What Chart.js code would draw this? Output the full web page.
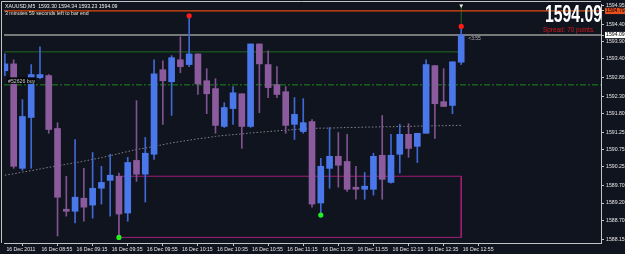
<!DOCTYPE html>
<html><head><meta charset="utf-8">
<script src="https://cdn.jsdelivr.net/npm/chart.js@4.4.0/dist/chart.umd.min.js"></script>
<style>html,body{margin:0;padding:0;background:#10141f;overflow:hidden}#wrap{width:625px;height:254px;position:relative}</style>
</head><body><div id="wrap"><canvas id="c" width="625" height="254"></canvas></div>
<script>
// ---- texts ----
const symbolTitle = 'XAUUSD,M5  1593.30 1594.34 1593.23 1594.09';
const timerText = '3 minutes 59 seconds left to bar end';
const bigPrice = '1594.09';
const spreadText = 'Spread: 70 points.';
const orderLabel = '#52626 buy';
const countdownText = '<3:55';

// ---- x axis (bar index of each tick and its label) ----
const xTickIndex = [0,4,8,12,16,20,24,28,32,36,40,44,48,52];
const xTickLabels = ['16 Dec 2011','16 Dec 08:55','16 Dec 09:15','16 Dec 09:35','16 Dec 09:55','16 Dec 10:15','16 Dec 10:35','16 Dec 10:55','16 Dec 11:15','16 Dec 11:35','16 Dec 11:55','16 Dec 12:15','16 Dec 12:35','16 Dec 12:55'];

// ---- y axis tick values ----
const yTickValues = [1594.95,1594.79,1594.40,1594.09,1593.90,1593.40,1592.86,1592.30,1591.80,1591.25,1590.75,1590.25,1589.70,1589.20,1588.70,1588.15];

// ---- candles (M5 bars from 08:35 to 12:55) ----
const openP  = [1593.05,1593.25,1590.21,1591.69,1592.85,1592.91,1591.37,1589.02,1588.96,1589.34,1589.14,1589.63,1589.86,1589.98,1588.91,1590.44,1590.04,1590.62,1593.08,1592.73,1593.37,1593.23,1593.54,1592.76,1592.53,1591.43,1591.95,1592.38,1591.43,1593.83,1593.23,1592.65,1592.44,1591.49,1591.28,1591.57,1589.20,1590.21,1590.56,1590.41,1589.66,1589.60,1589.60,1590.59,1589.80,1590.62,1591.20,1590.85,1591.23,1593.20,1592.15,1592.04,1593.30];
const highP  = [1593.54,1593.37,1592.21,1593.23,1593.75,1592.94,1591.54,1589.98,1591.05,1590.21,1590.67,1590.27,1590.62,1590.07,1590.53,1592.18,1591.11,1593.37,1593.34,1593.49,1594.04,1594.65,1593.54,1593.11,1592.82,1592.12,1592.59,1592.38,1593.83,1593.83,1593.63,1593.17,1592.59,1592.27,1592.24,1591.63,1590.50,1591.40,1591.25,1591.20,1590.27,1590.09,1590.65,1591.75,1591.20,1591.49,1591.51,1591.23,1593.37,1593.20,1593.11,1593.31,1594.34];
const lowP   = [1592.91,1590.21,1590.15,1590.21,1592.82,1591.23,1588.24,1588.82,1588.62,1588.67,1588.76,1589.17,1588.82,1588.24,1588.67,1589.83,1589.23,1590.47,1591.49,1591.75,1592.99,1593.17,1592.36,1591.80,1591.23,1591.40,1591.49,1590.79,1591.40,1591.83,1592.27,1592.27,1591.23,1591.05,1591.23,1589.08,1588.91,1589.63,1589.66,1589.54,1589.31,1589.31,1589.43,1589.31,1589.78,1590.07,1590.53,1590.38,1591.23,1591.08,1592.01,1591.80,1593.23];
const closeP = [1593.25,1590.27,1591.72,1592.94,1592.94,1591.34,1589.37,1588.96,1589.37,1589.08,1589.63,1589.80,1590.01,1588.88,1590.38,1590.04,1590.65,1592.96,1592.76,1593.43,1593.17,1593.54,1592.67,1592.38,1591.46,1591.98,1592.41,1591.43,1593.83,1593.25,1592.56,1592.36,1591.46,1591.78,1591.54,1589.17,1590.27,1590.56,1590.30,1589.60,1589.60,1589.69,1590.56,1589.89,1590.59,1591.20,1590.79,1591.23,1593.23,1592.09,1592.01,1593.31,1594.09];
// moving average (dotted grey curve)
const maValues = [1590.01,1590.05,1590.10,1590.14,1590.19,1590.24,1590.28,1590.33,1590.37,1590.42,1590.47,1590.52,1590.58,1590.64,1590.70,1590.76,1590.80,1590.85,1590.90,1590.95,1590.99,1591.03,1591.07,1591.10,1591.14,1591.17,1591.19,1591.21,1591.24,1591.26,1591.28,1591.30,1591.32,1591.34,1591.36,1591.37,1591.38,1591.38,1591.39,1591.40,1591.40,1591.41,1591.41,1591.42,1591.42,1591.43,1591.43,1591.44,1591.44,1591.45,1591.45,1591.46,1591.46];

// ---- levels and objects ----
const askPrice = 1594.79, bidPrice = 1594.09, tpLevel = 1593.60, orderPrice = 1592.64;
const fractalUpIdx = [21,52], fractalUpPrice = [1594.65,1594.34];
const fractalDnIdx = [13,36], fractalDnPrice = [1588.20,1588.85];
const boxIdx = [13,52], boxPrice = [1588.20,1589.98];
const tpEndIdx = 52;
const lastIdx = 52;

// ---- view ----
const X_MIN = -0.10, X_MAX = 67.93, Y_MIN = 1588.037, Y_MAX = 1594.993;
const BG = '#10141f';
const BULL = '#4a78ea', BEAR = '#8c5b9e', BULLW = '#4068d4', BEARW = '#7f5290';
const AXIS = '#c4c4c4';
const FONT_FAMILY = "'Liberation Sans',Arial,sans-serif";
const tickFont = {family: FONT_FAMILY, size: 5.2, lineHeight: 1};

const isBull = closeP.map((c,i)=>c>=openP[i]);
const hline = (y, x0, x1) => [{x:x0,y},{x:x1,y}];

const bgPlugin = {
  id:'bg',
  beforeDraw(chart){ const c=chart.ctx; c.save(); c.fillStyle=BG; c.fillRect(0,0,chart.width,chart.height); c.restore(); }
};
const textPlugin = {
  id:'texts',
  afterDraw(chart){
    const c = chart.ctx, a = chart.chartArea, xs = chart.scales.x, ys = chart.scales.y;
    c.save();
    // frame top/left
    c.strokeStyle = AXIS; c.lineWidth = 1;
    c.beginPath(); c.moveTo(1.5, a.bottom); c.lineTo(1.5, 1.5); c.lineTo(a.right, 1.5); c.stroke();
    // header
    c.textBaseline = 'alphabetic'; c.textAlign = 'left';
    c.font = `5.2px ${FONT_FAMILY}`;
    c.fillStyle = '#f0f0f0';
    c.fillText(symbolTitle, 5, 8.2);
    c.fillStyle = '#e8e2d0';
    c.fillText(timerText, 5, 15);
    // order label
    const ox = xs.getPixelForValue(X_MIN) + 4, oy = ys.getPixelForValue(orderPrice);
    const ow = c.measureText(orderLabel).width;
    c.fillStyle = '#05070a'; c.fillRect(ox-1, oy-7.5, ow+2, 6.5);
    c.fillStyle = '#c8c8c8'; c.fillText(orderLabel, ox, oy-2);
    // countdown near last bar
    c.font = `5px ${FONT_FAMILY}`; c.fillStyle = '#b8b8b8';
    c.fillText(countdownText, xs.getPixelForValue(lastIdx)+7, ys.getPixelForValue(bidPrice)+5);
    // big price
    c.font = `bold 23px 'Liberation Sans',Arial,sans-serif`;
    const w = c.measureText(bigPrice).width;
    c.translate(545, 22); c.scale(57/w, 1);
    c.fillStyle = '#ffffff'; c.fillText(bigPrice, 0, 0);
    c.setTransform(1,0,0,1,0,0);
    c.font = `6.4px 'Liberation Sans',Arial,sans-serif`;
    c.fillStyle = '#d41818';
    c.fillText(spreadText, 543, 31.5);
    c.restore();
  }
};

const chart = new Chart(document.getElementById('c'), {
  type:'bar',
  data:{ datasets:[
    {type:'line', data: fractalUpIdx.map((x,i)=>({x, y:fractalUpPrice[i]})), showLine:false, pointRadius:2.6, pointBackgroundColor:'#ff1a1a', pointBorderWidth:0, order:0},
    {type:'line', data: fractalDnIdx.map((x,i)=>({x, y:fractalDnPrice[i]})), showLine:false, pointRadius:2.6, pointBackgroundColor:'#22ee22', pointBorderWidth:0, order:0},
    {type:'line', data:[{x:lastIdx, y:Y_MAX-0.05}], showLine:false, pointStyle:'triangle', rotation:180, pointRadius:2.2, pointBackgroundColor:'#e8e8e8', pointBorderWidth:0, order:0, clip:false},
    {type:'bar', data: openP.map((o,i)=>({x:i, y:[o, closeP[i]]})), backgroundColor: isBull.map(b=>b?BULL:BEAR), barThickness:6, grouped:false, borderWidth:0, order:1},
    {type:'bar', data: lowP.map((l,i)=>({x:i, y:[l, highP[i]]})), backgroundColor: isBull.map(b=>b?BULLW:BEARW), barThickness:1, grouped:false, borderWidth:0, order:2},
    {type:'line', data: maValues.map((v,i)=>({x:i, y:v})), borderColor:'#858585', borderWidth:1, borderDash:[1.5,2], pointRadius:0, tension:0, order:3},
    {type:'line', data: hline(askPrice, X_MIN, X_MAX), borderColor:'#e0480c', borderWidth:1.2, pointRadius:0, order:4},
    {type:'line', data: hline(bidPrice, X_MIN, X_MAX), borderColor:'#9a9a9a', borderWidth:1.4, pointRadius:0, order:4},
    {type:'line', data: hline(tpLevel, X_MIN, tpEndIdx), borderColor:'#1d6a1d', borderWidth:1, pointRadius:0, order:4},
    {type:'line', data: hline(orderPrice, X_MIN, X_MAX), borderColor:'#1c8a1c', borderWidth:1, borderDash:[6,2,2,2], pointRadius:0, order:4},
    {type:'line', data: [{x:boxIdx[0],y:boxPrice[1]},{x:boxIdx[1],y:boxPrice[1]},{x:boxIdx[1],y:boxPrice[0]},{x:boxIdx[0],y:boxPrice[0]},{x:boxIdx[0],y:boxPrice[1]}], borderColor:'#a01e78', borderWidth:1, pointRadius:0, order:4},
    {type:'line', data: [{x:lastIdx,y:fractalUpPrice[1]},{x:lastIdx,y:Y_MAX}], borderColor:'#1d6a1d', borderWidth:1, pointRadius:0, order:4}
  ]},
  options:{
    responsive:false, animation:false, devicePixelRatio:1,
    layout:{padding:{left:2, top:1, right:0, bottom:0}},
    plugins:{legend:{display:false}, tooltip:{enabled:false}},
    scales:{
      x:{type:'linear', min:X_MIN, max:X_MAX, offset:false,
        afterFit(s){ s.height = 11; s.paddingLeft = 0; s.paddingRight = 0; },
        afterBuildTicks(s){ s.ticks = xTickIndex.map(v=>({value:v})); },
        grid:{drawOnChartArea:false, drawTicks:true, tickLength:3, color:AXIS},
        border:{color:AXIS, width:1},
        ticks:{autoSkip:false, maxRotation:0, align:'start', labelOffset:1.5, padding:1, color:'#e6e6e6', font:tickFont,
          callback:(v)=>{ const k = xTickIndex.indexOf(v); return k>=0 ? xTickLabels[k] : ''; }}
      },
      y:{type:'linear', position:'right', min:Y_MIN, max:Y_MAX,
        afterFit(s){ s.width = 24; s.paddingTop = 0; s.paddingBottom = 0; },
        afterBuildTicks(s){ s.ticks = yTickValues.map(v=>({value:v})); },
        grid:{drawOnChartArea:false, drawTicks:true, tickLength:3, color:AXIS},
        border:{color:AXIS, width:1},
        ticks:{autoSkip:false, padding:2, font:tickFont,
          color:(ctx)=> (ctx.tick && (ctx.tick.value===bidPrice || ctx.tick.value===askPrice)) ? '#000000' : '#e6e6e6',
          showLabelBackdrop:(ctx)=> !!(ctx.tick && (ctx.tick.value===bidPrice || ctx.tick.value===askPrice)),
          backdropColor:(ctx)=> (ctx.tick && ctx.tick.value===askPrice) ? '#e8501a' : '#ffffff',
          backdropPadding:{top:0.5,bottom:0.5,left:1,right:1},
          callback:(v)=> Number(v).toFixed(2)}
      }
    }
  },
  plugins:[bgPlugin, textPlugin]
});
</script></body></html>
